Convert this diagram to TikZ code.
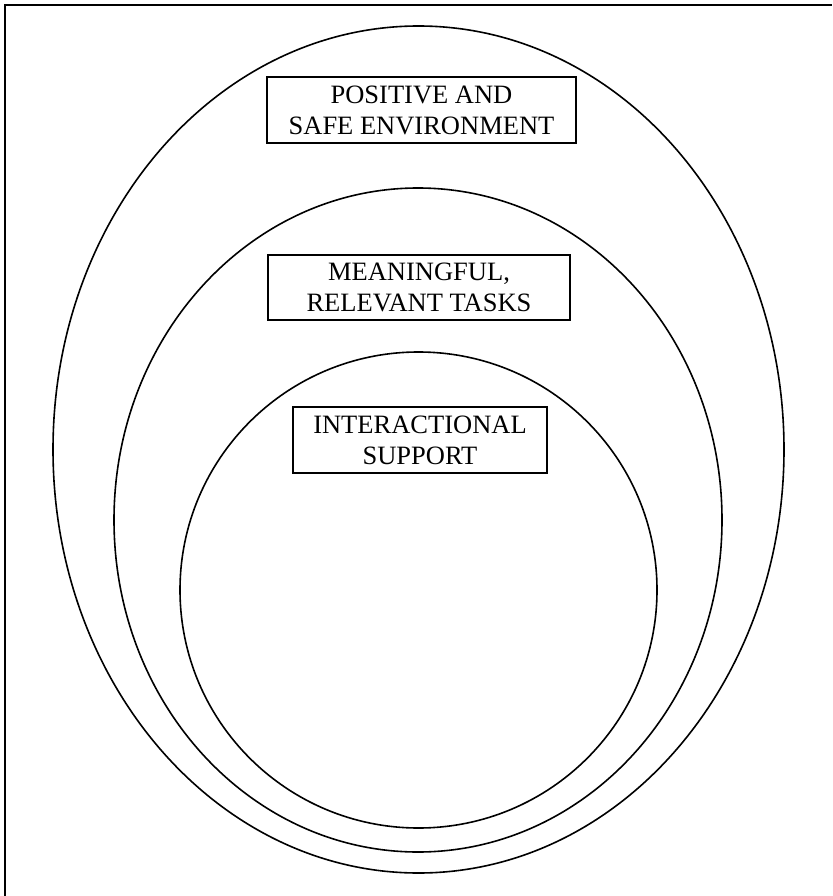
\documentclass[tikz,border=0pt]{standalone}
\usepackage{fontspec}
\setmainfont{Liberation Serif}
\usetikzlibrary{shapes.geometric}
\begin{document}
\begin{tikzpicture}[x=1pt,y=-1pt,
  ring/.style={draw, ellipse, line width=1.6pt, inner sep=0pt},
  label box/.style={draw, line width=2pt, align=center, inner sep=0pt,
    font=\fontsize{26.5}{31}\selectfont}]
\useasboundingbox (0,0) rectangle (832,896);
\coordinate (ftl) at (5,5);
\coordinate (fbl) at (5,896);
\coordinate (ftr) at (832,5);
\draw[line width=2.2pt] (fbl) -- (ftl) -- (ftr);
\node[ring, minimum width=731pt, minimum height=847pt] (outer) at (418.5,449.5) {};
\node[ring, minimum width=608pt, minimum height=664pt] (middle) at (418,520) {};
\node[ring, minimum width=477pt, minimum height=476pt] (inner) at (418.5,590) {};
\node[label box, minimum width=309pt, minimum height=66pt] (b1) at (421.5,110) {POSITIVE AND\\SAFE ENVIRONMENT};
\node[label box, minimum width=302pt, minimum height=65pt] (b2) at (419,287.5) {MEANINGFUL,\\RELEVANT TASKS};
\node[label box, minimum width=254pt, minimum height=66pt] (b3) at (420,440) {INTERACTIONAL\\SUPPORT};
\end{tikzpicture}
\end{document}
